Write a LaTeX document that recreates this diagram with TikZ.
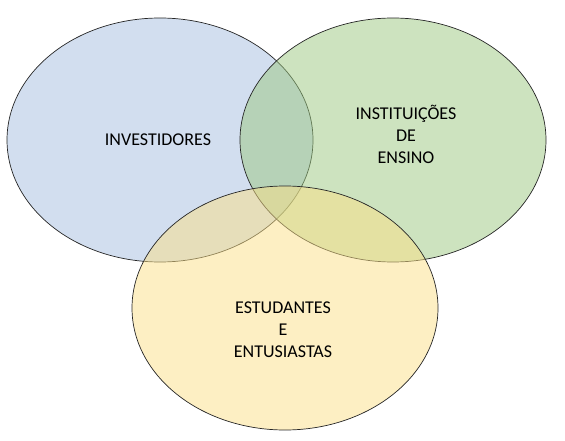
\documentclass[tikz,border=0pt]{standalone}
\usepackage{fontspec}
\setmainfont{Carlito}
\usetikzlibrary{shapes.geometric}
\definecolor{vennBlue}{RGB}{165,189,223}
\definecolor{vennGreen}{RGB}{155,199,127}
\definecolor{vennYellow}{RGB}{251,223,135}

\begin{document}
\begin{tikzpicture}[x=1pt, y=-1pt,
    circ/.style={ellipse, draw=black!85, line width=0.7pt, fill opacity=0.5,
                 minimum width=306pt, minimum height=244pt, inner sep=0pt},
    lbl/.style={align=center, text=black,
                font=\fontsize{18}{22}\selectfont},
  ]
    \useasboundingbox (0,0) rectangle (565,441);
    % the three sets
    \node[circ, fill=vennBlue] (inv) at (160,140) {};
    \node[circ, fill=vennGreen] (inst) at (393,140) {};
    \node[circ, fill=vennYellow] (estud) at (285,308) {};
    % their names
    \node[lbl] (invtxt) at (158,140) {INVESTIDORES};
    \node[lbl] (insttxt) at (406,134) {INSTITUIÇÕES\\DE\\ENSINO};
    \node[lbl] (estudtxt) at (283,330) {ESTUDANTES\\E\\ENTUSIASTAS};
  \end{tikzpicture}
\end{document}
